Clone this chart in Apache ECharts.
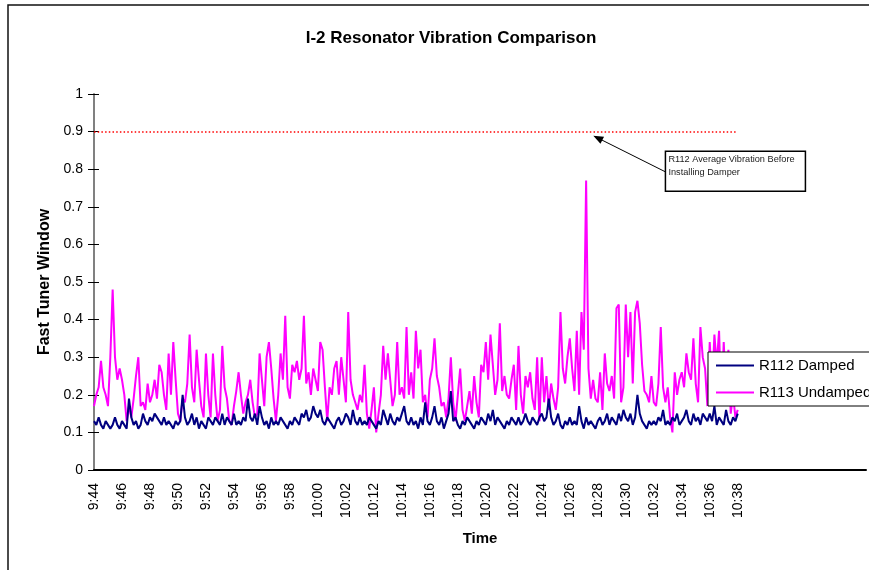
<!DOCTYPE html>
<html>
<head>
<meta charset="utf-8">
<title>I-2 Resonator Vibration Comparison</title>
<script src="https://cdn.jsdelivr.net/npm/echarts@6/dist/echarts.min.js"></script>
<style>
  html, body { margin: 0; padding: 0; background: #fff; overflow: hidden; }
  #chart { width: 869px; height: 570px; }
</style>
</head>
<body>
<div id="chart"></div>
<script>
// Sampling runs: [start time, number of 10-second samples]
const sampleRuns = [['9:44:00', 120], ['10:12:00', 157]];
const sampleStepSec = 10;
// Empty categories that carry the time axis on past the last sample
const trailingSlots = 55;

// Fast tuner window, R112 (damped)
const r112Damped = [
  0.13,0.12,0.14,0.12,0.11,0.13,0.12,0.11,0.12,0.14,0.12,0.11,
  0.13,0.12,0.11,0.19,0.14,0.12,0.13,0.11,0.12,0.15,0.13,0.12,
  0.14,0.13,0.15,0.14,0.13,0.12,0.14,0.12,0.13,0.12,0.11,0.13,
  0.12,0.13,0.20,0.14,0.12,0.13,0.15,0.12,0.14,0.11,0.13,0.12,
  0.11,0.14,0.13,0.12,0.14,0.13,0.12,0.15,0.12,0.14,0.13,0.12,
  0.15,0.12,0.13,0.12,0.14,0.13,0.19,0.14,0.13,0.15,0.12,0.17,
  0.14,0.12,0.13,0.11,0.14,0.12,0.13,0.12,0.14,0.13,0.12,0.11,
  0.13,0.12,0.14,0.13,0.12,0.15,0.14,0.16,0.13,0.14,0.17,0.15,
  0.14,0.16,0.13,0.12,0.14,0.13,0.12,0.11,0.13,0.14,0.12,0.13,
  0.15,0.14,0.12,0.16,0.13,0.12,0.14,0.12,0.13,0.12,0.14,0.13,
  0.12,0.11,0.13,0.12,0.16,0.14,0.12,0.15,0.13,0.12,0.14,0.13,
  0.15,0.17,0.13,0.12,0.14,0.12,0.13,0.11,0.14,0.12,0.18,0.13,
  0.12,0.14,0.17,0.13,0.12,0.14,0.11,0.13,0.15,0.21,0.13,0.14,
  0.12,0.11,0.13,0.12,0.14,0.13,0.12,0.11,0.13,0.12,0.14,0.13,
  0.12,0.15,0.13,0.16,0.12,0.14,0.13,0.12,0.11,0.13,0.12,0.14,
  0.13,0.12,0.14,0.12,0.13,0.15,0.13,0.12,0.14,0.13,0.12,0.14,
  0.15,0.13,0.14,0.19,0.14,0.12,0.13,0.15,0.12,0.11,0.13,0.12,
  0.14,0.12,0.13,0.12,0.17,0.13,0.11,0.14,0.12,0.13,0.12,0.11,
  0.13,0.14,0.12,0.13,0.15,0.12,0.14,0.13,0.12,0.15,0.13,0.16,
  0.14,0.13,0.15,0.12,0.14,0.20,0.15,0.13,0.12,0.11,0.13,0.12,
  0.13,0.12,0.14,0.13,0.16,0.12,0.13,0.12,0.14,0.13,0.15,0.12,
  0.13,0.14,0.16,0.13,0.12,0.15,0.13,0.14,0.12,0.15,0.14,0.13,
  0.15,0.13,0.17,0.12,0.14,0.13,0.12,0.16,0.13,0.12,0.14,0.13,
  0.15
];

// Fast tuner window, R113 (undamped)
const r113Undamped = [
  0.17,0.20,0.22,0.29,0.22,0.20,0.17,0.30,0.48,0.30,0.24,0.27,
  0.24,0.20,0.13,0.17,0.14,0.19,0.25,0.30,0.17,0.18,0.16,0.23,
  0.18,0.20,0.24,0.19,0.28,0.26,0.20,0.16,0.31,0.20,0.34,0.24,
  0.15,0.13,0.19,0.18,0.23,0.36,0.22,0.18,0.32,0.24,0.17,0.14,
  0.31,0.20,0.14,0.31,0.20,0.13,0.16,0.33,0.22,0.19,0.13,0.12,
  0.17,0.21,0.26,0.20,0.15,0.18,0.20,0.24,0.18,0.14,0.15,0.31,
  0.24,0.17,0.30,0.34,0.27,0.19,0.13,0.20,0.31,0.24,0.41,0.22,
  0.19,0.28,0.26,0.29,0.24,0.27,0.41,0.23,0.26,0.20,0.27,0.24,
  0.21,0.34,0.32,0.22,0.13,0.22,0.20,0.27,0.29,0.20,0.30,0.24,
  0.18,0.42,0.24,0.20,0.18,0.16,0.20,0.18,0.28,0.15,0.11,0.16,
  0.22,0.10,0.15,0.20,0.33,0.24,0.31,0.24,0.17,0.20,0.34,0.20,
  0.22,0.19,0.38,0.20,0.26,0.19,0.37,0.27,0.32,0.18,0.20,0.14,
  0.24,0.27,0.35,0.25,0.22,0.17,0.18,0.14,0.19,0.30,0.18,0.13,
  0.20,0.27,0.16,0.13,0.17,0.21,0.15,0.25,0.18,0.14,0.28,0.26,
  0.34,0.24,0.36,0.28,0.20,0.24,0.39,0.21,0.25,0.20,0.19,0.24,
  0.28,0.16,0.33,0.20,0.15,0.25,0.22,0.26,0.19,0.16,0.30,0.13,
  0.30,0.18,0.25,0.16,0.23,0.19,0.16,0.22,0.42,0.27,0.23,0.30,
  0.35,0.27,0.21,0.37,0.20,0.42,0.32,0.77,0.27,0.19,0.24,0.19,
  0.18,0.26,0.16,0.31,0.23,0.21,0.25,0.19,0.43,0.44,0.18,0.22,
  0.44,0.30,0.42,0.23,0.42,0.45,0.39,0.28,0.21,0.20,0.18,0.25,
  0.18,0.17,0.23,0.38,0.22,0.18,0.22,0.14,0.10,0.26,0.20,0.24,
  0.26,0.22,0.31,0.26,0.24,0.35,0.23,0.18,0.38,0.30,0.27,0.17,
  0.34,0.22,0.36,0.28,0.37,0.17,0.34,0.20,0.32,0.15,0.20,0.14,
  0.16
];

// R112 average vibration before the damper was installed
const r112BeforeDamper = 0.9;

// Y axis scale
const yMin = 0, yMax = 1, yStep = 0.1;

// Callout: text, box corner [sample index, value], arrow from box edge to the reference line
const calloutText = 'R112 Average Vibration Before\nInstalling Damper';
const calloutBoxAt = [245, 0.848];
const calloutArrow = [[245, 0.793], [216, 0.883]];

const FONT = '"Liberation Sans", Arial, Helvetica, sans-serif';

function pad2(n) { return (n < 10 ? '0' : '') + n; }
function buildCategories() {
  const out = [];
  sampleRuns.forEach(([start, count]) => {
    const [h, m, s] = start.split(':').map(Number);
    let t = h * 3600 + m * 60 + s;
    for (let k = 0; k < count; k++, t += sampleStepSec) {
      out.push(Math.floor(t / 3600) + ':' + pad2(Math.floor(t / 60) % 60) + ':' + pad2(t % 60));
    }
  });
  for (let k = 0; k < trailingSlots; k++) out.push('');
  return out;
}
const categories = buildCategories();
const lastSample = r112Damped.length - 1;

const chart = echarts.init(document.getElementById('chart'), null, { renderer: 'canvas' });

const outerFrame = {
  type: 'rect', id: 'frame', silent: true, z: 0,
  shape: { x: 8, y: 5, width: 2000, height: 2000 },
  style: { fill: null, stroke: '#111', lineWidth: 1.5 }
};

chart.setOption({
  animation: false,
  backgroundColor: '#fff',
  textStyle: { fontFamily: FONT },
  title: {
    text: 'I-2 Resonator Vibration Comparison',
    left: 446, top: 25, textAlign: 'center',
    textStyle: { fontSize: 17, fontWeight: 'bold', color: '#000', fontFamily: FONT }
  },
  legend: {
    orient: 'vertical',
    left: 708, top: 352,
    itemWidth: 38, itemHeight: 14, itemGap: 12,
    padding: [6, 60, 6, 7],
    borderColor: '#000', borderWidth: 1, backgroundColor: '#fff',
    itemStyle: { opacity: 0 },
    lineStyle: { width: 2 },
    textStyle: { fontSize: 15, color: '#000', fontFamily: FONT },
    data: ['R112 Damped', 'R113 Undamped']
  },
  grid: { left: 94, right: 3, top: 94, bottom: 100, containLabel: false },
  xAxis: {
    type: 'category',
    data: categories,
    boundaryGap: false,
    axisLine: { lineStyle: { color: '#000', width: 2 } },
    axisTick: { show: false },
    splitLine: { show: false },
    axisLabel: {
      interval: 11, rotate: 90, margin: 13,
      fontSize: 14, color: '#000', fontFamily: FONT,
      formatter: v => v ? v.slice(0, v.lastIndexOf(':')) : ''
    },
    name: 'Time', nameLocation: 'middle', nameGap: 61,
    nameTextStyle: { fontSize: 15, fontWeight: 'bold', color: '#000', fontFamily: FONT }
  },
  yAxis: [{
    type: 'value', min: yMin, max: yMax, interval: yStep,
    axisLine: { show: true, lineStyle: { color: '#808080', width: 2 } },
    axisTick: { show: true, length: 6, lineStyle: { color: '#000' } },
    splitLine: { show: false },
    axisLabel: { margin: 11, fontSize: 14, color: '#000', fontFamily: FONT },
    name: 'Fast Tuner Window', nameLocation: 'middle', nameGap: 41,
    nameTextStyle: { fontSize: 16, fontWeight: 'bold', color: '#000', fontFamily: FONT }
  }, {
    type: 'value', min: yMin, max: yMax, interval: yStep, position: 'left',
    axisLine: { show: false },
    axisTick: { show: true, inside: true, length: 5, lineStyle: { color: '#000' } },
    axisLabel: { show: false },
    splitLine: { show: false }
  }],
  series: [{
    name: 'R112 Damped',
    type: 'line',
    data: r112Damped,
    symbol: 'none',
    z: 3,
    lineStyle: { color: '#000080', width: 2 },
    itemStyle: { color: '#000080' },
    markLine: {
      silent: true, symbol: 'none', label: { show: false },
      lineStyle: { color: '#ff0000', width: 1.5, type: [1.5, 2.2] },
      data: [[{ coord: [0, r112BeforeDamper] }, { coord: [lastSample, r112BeforeDamper] }]]
    }
  }, {
    name: 'R113 Undamped',
    type: 'line',
    data: r113Undamped,
    symbol: 'none',
    z: 2,
    lineStyle: { color: '#ff00ff', width: 2 },
    itemStyle: { color: '#ff00ff' },
    markLine: {
      silent: true, symbol: ['none', 'triangle'], symbolSize: [8, 10],
      label: { show: false },
      lineStyle: { color: '#000', width: 1, type: 'solid' },
      data: [[{ coord: calloutArrow[0] }, { coord: calloutArrow[1] }]]
    }
  }],
  graphic: [outerFrame]
});

// Callout box, anchored to the data grid
const boxPos = chart.convertToPixel({ xAxisIndex: 0, yAxisIndex: 0 }, calloutBoxAt);
chart.setOption({
  graphic: [outerFrame, {
    type: 'group', id: 'callout', x: boxPos[0], y: boxPos[1], z: 10,
    children: [{
      type: 'rect',
      shape: { x: 0, y: 0, width: 140, height: 40 },
      style: { fill: '#fff', stroke: '#000', lineWidth: 1.5 }
    }, {
      type: 'text',
      style: {
        text: calloutText, x: 3, y: 2,
        fontSize: 9.2, lineHeight: 13, fontFamily: FONT, fill: '#222'
      }
    }]
  }]
});
</script>
</body>
</html>
